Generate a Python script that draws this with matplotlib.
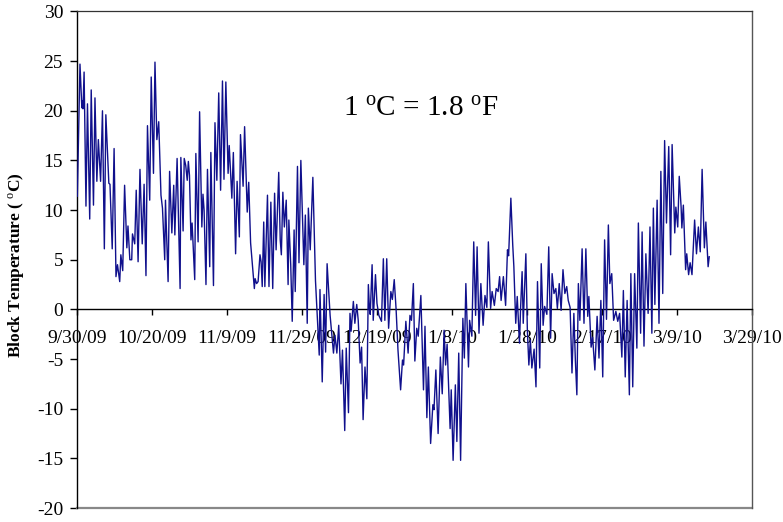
import datetime as dt
import matplotlib
matplotlib.use("Agg")
import matplotlib.pyplot as plt
import matplotlib.dates as mdates

# Block temperature record, days elapsed since 9/30/09 and reading in deg C
day_offset = [
    0.1, 0.8, 1.3, 1.4, 1.6, 1.9, 2.4, 2.8, 3.4, 3.8,
    4.4, 4.8, 5.3, 5.7, 6.3, 6.8, 7.3, 7.7, 8.5, 8.8,
    9.4, 9.9, 10.4, 10.8, 11.4, 11.7, 12.2, 12.7, 13.3, 13.6,
    14.1, 14.6, 14.8, 15.4, 15.8, 16.3, 16.8, 17.4, 17.9, 18.4,
    18.8, 19.4, 19.8, 20.4, 20.8, 21.3, 21.8, 22.4, 22.8, 23.4,
    23.6, 24.3, 24.7, 25.3, 25.8, 26.1, 26.7, 27.5, 27.7, 28.3,
    28.6, 29.0, 29.4, 29.7, 30.0, 30.4, 30.7, 31.4, 31.7, 32.3,
    32.7, 33.3, 33.6, 33.9, 34.4, 34.8, 35.4, 35.7, 36.4, 36.8,
    37.3, 37.8, 38.3, 38.8, 39.2, 39.7, 40.3, 40.6, 41.3, 41.7,
    42.3, 42.7, 43.3, 43.6, 44.3, 44.7, 45.4, 45.8,
    46.3, 47.3, 47.5, 47.9, 48.3, 48.8, 49.1, 49.4, 49.8, 50.1,
    50.8, 51.2, 51.7, 52.2, 52.7, 53.1, 53.8, 54.2, 54.5, 54.9,
    55.3, 55.8, 56.3, 56.5, 57.0, 57.4, 57.9, 58.2, 58.8, 59.2,
    59.7, 60.5, 60.9, 61.4, 61.7, 62.2, 62.9, 63.6, 64.6, 64.8,
    65.4, 65.9, 66.3, 66.7, 67.5, 68.4, 68.8, 69.3, 69.8, 70.4,
    70.8, 71.4, 71.8, 72.4, 72.8, 73.1, 73.7, 74.1, 74.6, 75.0,
    75.5, 75.9, 76.3, 76.8, 77.3, 77.7, 78.0, 78.2, 78.7, 79.0,
    79.6, 80.0, 80.5, 81.2, 81.7, 82.1, 82.6, 83.1, 83.7, 84.1,
    84.6, 85.1, 85.6, 86.3, 86.8, 87.1, 87.7, 88.3, 88.8, 89.2,
    89.7, 90.1, 90.6, 91.0, 91.7, 92.4, 92.8, 93.3, 93.7, 94.3,
    94.9, 95.2, 95.7, 96.3, 96.9, 97.4, 97.9, 98.3, 98.7, 99.5,
    99.8, 100.3, 100.9, 101.3, 101.8, 102.3, 102.9, 103.3, 103.7, 104.4,
    104.7, 105.3, 105.8, 106.3, 106.7, 107.2, 107.7, 108.3, 108.8, 109.3,
    109.7, 110.3, 110.7, 111.3, 111.8, 112.3, 112.7, 113.1, 113.7, 114.3,
    114.8, 115.1, 115.7, 116.2, 116.5, 117.0, 117.4, 118.0, 118.3, 118.7,
    119.0, 119.7, 120.1, 120.5, 120.9, 121.3, 121.9, 122.4, 122.8, 123.4,
    123.8, 124.3, 124.7, 125.3, 125.8, 126.3, 126.7, 127.2, 127.7, 128.1,
    128.6, 129.1, 129.6, 130.1, 130.6, 131.0, 131.5, 132.0, 132.5, 132.9,
    133.3, 133.7, 134.1, 134.7, 135.2, 135.7, 136.2, 136.5, 137.1, 137.5,
    138.1, 138.7, 139.2, 139.7, 140.2, 140.7, 141.2, 141.7, 142.1, 142.6,
    143.1, 143.7, 144.2, 144.7, 145.3, 145.7, 146.2, 146.7, 147.3, 147.7,
    148.2, 148.7, 149.3, 149.7, 150.3, 150.7, 151.2, 151.7, 152.3, 152.8,
    153.3, 153.7, 154.1, 154.7, 155.2, 155.7, 156.2, 156.7, 157.2, 157.8,
    158.3, 158.7, 159.4, 159.7, 160.2, 160.6, 161.1, 161.3, 161.7, 162.3,
    162.6, 163.1, 163.5, 164.0, 164.7, 165.2, 165.7, 166.2, 166.7, 167.3,
    167.7, 168.3, 168.6,
]

temp_c = [
    11.4, 24.7, 20.3, 21.0, 20.2, 23.9, 10.4, 20.7, 9.1, 22.1,
    10.5, 21.3, 12.9, 17.1, 12.9, 20.0, 6.1, 19.6, 12.7, 12.6,
    6.1, 16.2, 3.3, 4.5, 2.8, 5.5, 3.9, 12.5, 6.2, 8.4,
    5.0, 5.0, 7.6, 6.6, 12.0, 4.8, 14.1, 6.6, 12.6, 3.4,
    18.5, 11.0, 23.4, 13.7, 24.9, 17.1, 18.9, 11.5, 10.2, 5.0,
    11.0, 2.8, 13.9, 7.7, 12.5, 7.5, 15.2, 2.1, 15.3, 7.9,
    15.2, 14.5, 13.0, 14.9, 13.5, 7.0, 8.7, 3.0, 15.7, 6.8,
    19.9, 8.3, 11.6, 10.0, 2.5, 14.1, 4.3, 15.8, 2.4, 18.8,
    13.0, 21.8, 12.0, 23.0, 13.1, 22.9, 13.7, 16.5, 11.2, 15.8,
    5.6, 12.9, 7.3, 17.6, 12.4, 18.4, 9.8, 12.8,
    6.7, 2.1, 3.1, 2.6, 2.8, 5.5, 4.8, 2.3, 8.8, 2.3,
    11.5, 2.3, 10.8, 2.1, 11.7, 6.0, 13.8, 7.0, 5.5, 11.8,
    8.3, 11.0, 2.5, 9.0, 4.5, -1.2, 8.0, 1.8, 14.4, 4.7,
    15.0, 4.5, 9.5, -1.4, 10.2, 6.0, 13.3, 2.9, -4.6, 2.0,
    -7.3, 1.5, -4.3, 4.6, -0.6, -4.4, -2.6, -4.4, -1.6, -7.5,
    -4.1, -12.2, -3.9, -10.4, -0.4, -2.2, 0.8, -1.4, 0.5, -1.1,
    -5.4, -3.8, -11.1, -5.8, -9.0, 2.5, 0.0, -0.5, 4.5, -1.1,
    3.5, 0.6, -0.6, -1.2, 5.1, -1.1, 5.1, -1.9, 1.8, 1.0,
    3.0, 0.0, -4.1, -8.1, -5.1, -5.6, -1.2, -4.4, -0.6, -1.1,
    2.6, -5.2, -1.9, -2.7, 1.4, -8.1, -1.7, -10.9, -5.8, -13.5,
    -9.6, -10.1, -6.1, -12.5, -4.8, -8.5, -2.1, -5.6, -3.5, -12.0,
    -8.1, -15.2, -7.6, -13.3, -4.4, -15.2, -0.9, -4.9, 2.6, -5.8,
    -1.1, -2.7, 6.8, -0.6, 6.3, -2.4, 2.6, -1.6, 1.4, 0.2,
    6.8, 0.1, 1.8, 0.4, 2.1, 1.8, 3.3, 0.9, 3.3, 0.4,
    6.0, 5.4, 11.2, 6.5, 4.3, -1.4, 1.3, -3.4, 0.2, 3.8,
    -1.4, 5.6, -2.1, -5.6, -3.1, -5.9, -4.0, -7.8, 2.8, -5.9,
    4.6, -1.6, 0.3, -0.5, 6.3, -2.9, 3.6, 1.6, 2.1, 0.1,
    2.6, -0.1, 4.0, 1.6, 2.3, 0.9, 0.2, -6.4, -0.4, -5.1,
    -8.6, 2.6, -1.1, 6.1, -1.4, 6.1, -0.7, 1.3, -3.8, -2.8,
    -6.1, -0.7, -4.9, 0.9, -6.8, 7.0, -1.0, 8.5, 2.6, 3.6,
    -1.1, -0.2, -1.2, -0.4, -4.8, 1.9, -6.8, 0.9, -8.6, 3.6,
    -7.8, 3.6, -3.9, 8.7, -2.4, 7.8, -3.7, 5.6, -0.4, 8.3,
    -2.4, 10.2, 0.5, 11.0, -1.4, 13.9, 1.6, 17.0, 8.7, 16.4,
    5.5, 16.6, 7.7, 10.3, 8.3, 13.4, 10.3, 8.2, 10.5, 4.0,
    5.6, 3.5, 4.7, 3.5, 9.0, 5.6, 8.3, 5.8, 14.1, 6.2,
    8.8, 4.3, 5.3,
]

date_ticks = ["9/30/09", "10/20/09", "11/9/09", "11/29/09", "12/19/09",
              "1/8/10", "1/28/10", "2/17/10", "3/9/10", "3/29/10"]
temp_ticks = [-20, -15, -10, -5, 0, 5, 10, 15, 20, 25, 30]

plt.rcParams["font.family"] = ["Liberation Serif", "DejaVu Serif"]
plt.rcParams["mathtext.fontset"] = "custom"
plt.rcParams["mathtext.rm"] = "Liberation Serif"
plt.rcParams["mathtext.it"] = "Liberation Serif:italic"
plt.rcParams["mathtext.bf"] = "Liberation Serif:bold"

start = dt.datetime(2009, 9, 30)
t0 = mdates.date2num(start)
x = [t0 + d for d in day_offset]
tick_pos = [mdates.date2num(dt.datetime.strptime(s, "%m/%d/%y")) for s in date_ticks]

fig = plt.figure(figsize=(7.83, 5.22), dpi=100)
ax = fig.add_axes([0.0983, 0.0268, 0.8621, 0.9512])

ax.plot(x, temp_c, color="#10108c", lw=1.0, zorder=3)

ax.set_xlim(tick_pos[0], tick_pos[-1])
ax.set_ylim(temp_ticks[0], temp_ticks[-1])

# x axis crosses at 0 degrees; box completed around the plot area
ax.spines["bottom"].set_position(("data", 0))
ax.spines["bottom"].set_color("black")
ax.spines["bottom"].set_linewidth(1.0)
ax.spines["left"].set_color("black")
ax.spines["left"].set_linewidth(1.0)
ax.spines["top"].set_color("#333333")
ax.spines["top"].set_linewidth(0.9)
ax.spines["right"].set_color("#555555")
ax.spines["right"].set_linewidth(1.0)
ax.axhline(temp_ticks[0], color="#888888", lw=1.6, clip_on=False, zorder=2)

ax.set_xticks(tick_pos)
ax.set_xticklabels(date_ticks)
ax.set_yticks(temp_ticks)
ax.set_yticklabels([str(v) for v in temp_ticks])
ax.tick_params(axis="x", direction="out", length=4, width=1.0, pad=11,
               labelsize=14, colors="black")
ax.tick_params(axis="y", direction="out", length=5, width=1.0, pad=5,
               labelsize=14, colors="black")

ax.set_ylabel(r"Block Temperature ( $^{\rm o}$C)", fontsize=12.5,
              fontweight="bold")
ax.yaxis.set_label_coords(-0.076, 0.49)

ax.text(0.394, 0.79, r"1 $^{\rm o}$C = 1.8 $^{\rm o}$F", transform=ax.transAxes,
        fontsize=21, va="baseline", ha="left")

fig.savefig("out.png", dpi=100)
